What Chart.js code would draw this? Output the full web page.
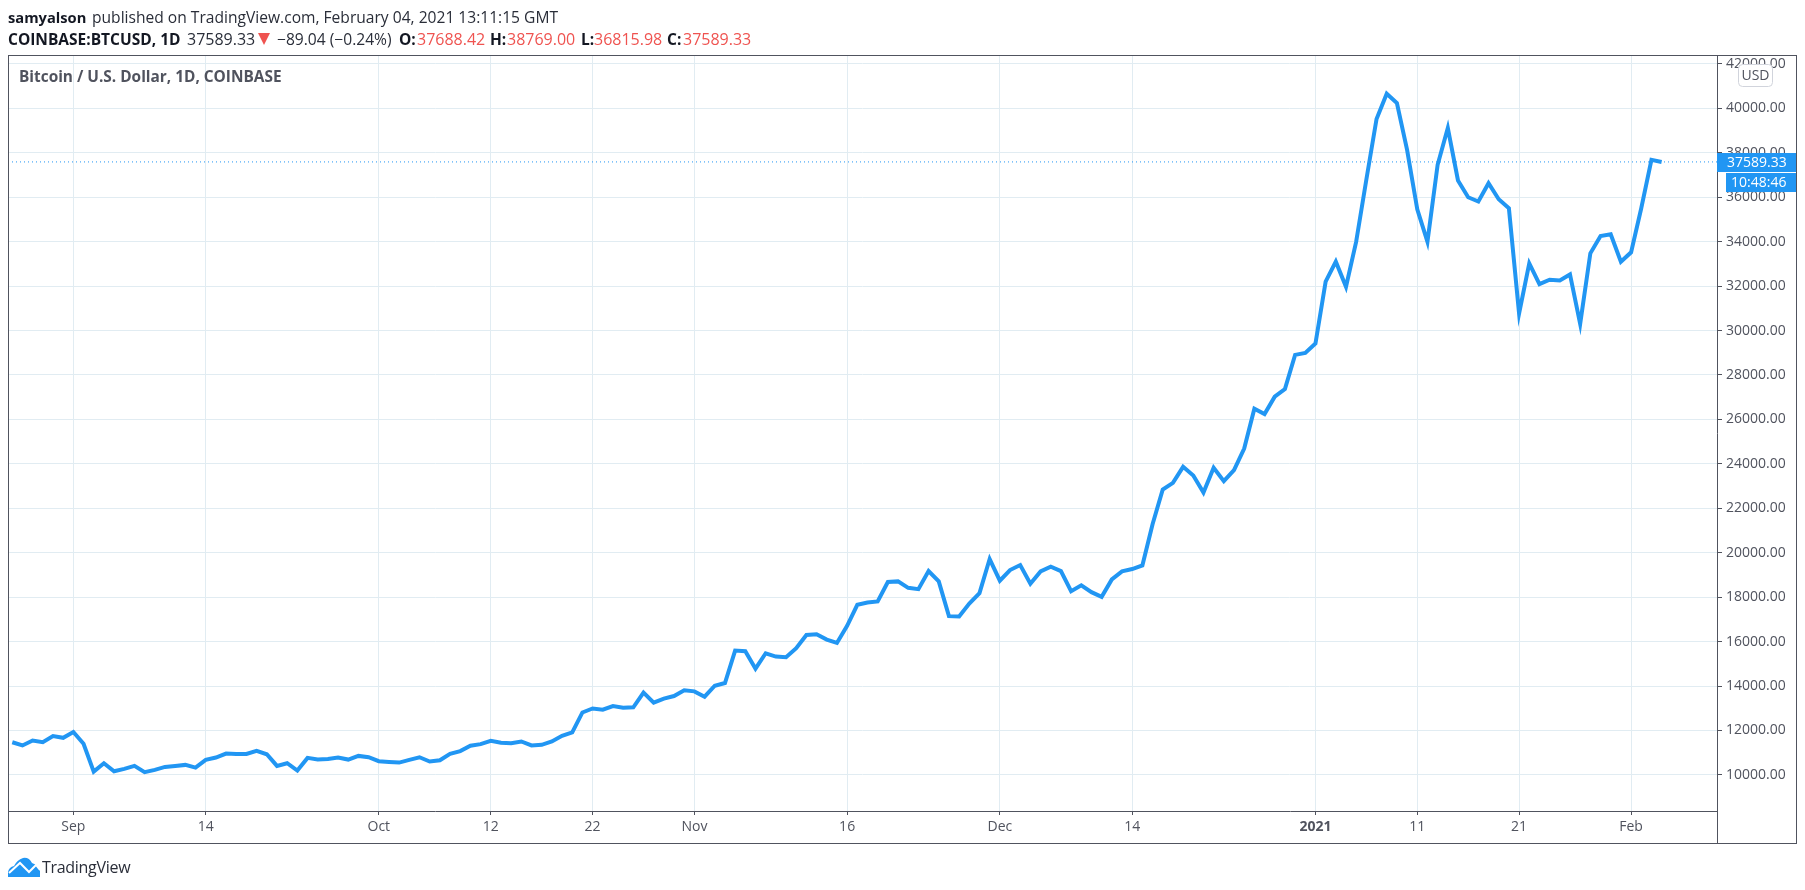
<!DOCTYPE html>
<html>
<head>
<meta charset="utf-8">
<title>BTCUSD</title>
<script src="https://cdn.jsdelivr.net/npm/chart.js@4/dist/chart.umd.min.js"></script>
<style>
    html, body { margin: 0; padding: 0; background: #fff; overflow: hidden; }
    body { width: 1805px; height: 890px; position: relative; font-family: "Open Sans", sans-serif; }
    canvas { position: absolute; left: 0; top: 0; }
    .txt { position: absolute; white-space: nowrap; line-height: 20px; color: #2a2e39; }
    .r1 { top: 7px; }
    .r2 { top: 29px; font-size: 16px; }
    b.txt { color: #131722; font-weight: 700; font-size: 15.5px; }
    .red { color: #ef5350; }
    .name { left: 19px; top: 67px; font-size: 15.4px; font-weight: 700; color: #50535e; }
    .brand { left: 42px; top: 857px; font-size: 16px; letter-spacing: -0.3px; }
    .tri { position: absolute; left: 258px; top: 33px; width: 0; height: 0;
           border-left: 6px solid transparent; border-right: 6px solid transparent; border-top: 12px solid #ef5350; }
    svg { position: absolute; left: 8px; top: 857px; }
</style>
</head>
<body>
<canvas id="chart" width="1805" height="890"></canvas>
<b class="txt r1" style="left:8px;font-size:14.7px">samyalson</b>
<span class="txt r1" style="left:92px;font-size:15.6px">published on TradingView.com, February 04, 2021 13:11:15 GMT</span>
<b class="txt r2" style="left:8px">COINBASE:BTCUSD, 1D</b>
<span class="txt r2" style="left:187px">37589.33</span>
<span class="tri"></span>
<span class="txt r2" style="left:277px;font-size:15.6px">−89.04 (−0.24%)</span>
<b class="txt r2" style="left:399px">O:</b><span class="txt r2 red" style="left:417px">37688.42</span>
<b class="txt r2" style="left:490px">H:</b><span class="txt r2 red" style="left:507px">38769.00</span>
<b class="txt r2" style="left:581px">L:</b><span class="txt r2 red" style="left:594px">36815.98</span>
<b class="txt r2" style="left:667px">C:</b><span class="txt r2 red" style="left:683px">37589.33</span>
<div class="txt name">Bitcoin / U.S. Dollar, 1D, COINBASE</div>
<svg width="32" height="20" viewBox="0 0 32 20">
    <path d="M0 20 L0 15 Q1 10 6 9 Q9 3 15 1 Q21 0 24 6 Q30 8 32 14 L32 20 Z" fill="#2196f3"/>
    <path d="M1 16 L12 6 L21 15 L28 8 L32 13" fill="none" stroke="#fff" stroke-width="2"/>
</svg>
<div class="txt brand">TradingView</div>
<script>
// daily closes from Aug 26 2020 to Feb 4 2021
const prices = [
    11470, 11325, 11550, 11475, 11745, 11670, 11930, 11400, 10150, 10525,
    10165, 10270, 10405, 10120, 10225, 10360, 10405, 10450, 10330, 10680,
    10780, 10960, 10945, 10945, 11085, 10930, 10405, 10525, 10195, 10765,
    10690, 10720, 10780, 10690, 10855, 10795, 10615, 10585, 10555, 10675,
    10795, 10600, 10660, 10945, 11070, 11310, 11385, 11535, 11445, 11430,
    11505, 11325, 11355, 11505, 11760, 11910, 12810, 12990, 12935, 13100,
    13025, 13040, 13700, 13250, 13430, 13550, 13805, 13760, 13520, 14015,
    14135, 15595, 15565, 14780, 15475, 15325, 15295, 15700, 16300, 16330,
    16090, 15940, 16710, 17655, 17760, 17805, 18680, 18710, 18420, 18360,
    19175, 18710, 17145, 17130, 17715, 18180, 19715, 18740, 19220, 19445,
    18605, 19160, 19370, 19175, 18270, 18530, 18225, 18015, 18800, 19160,
    19265, 19430, 21280, 22845, 23145, 23865, 23475, 22705, 23820, 23220,
    23715, 24690, 26480, 26240, 27025, 27370, 28905, 28995, 29415, 32200,
    33100, 31970, 34000, 36800, 39520, 40660, 40240, 38135, 35460, 34000,
    37460, 39115, 36755, 36000, 35805, 36630, 35910, 35505, 30770, 33025,
    32090, 32285, 32255, 32525, 30300, 33475, 34255, 34330, 33100, 33520,
    35505, 37685, 37589.33
];
const lastPrice = 37589.33;
const countdown = '10:48:46';
const currency = 'USD';

const xTickDays = [6, 19, 36, 47, 57, 67, 82, 97, 110, 128, 138, 148, 159];
const xTickLabels = ['Sep', '14', 'Oct', '12', '22', 'Nov', '16', 'Dec', '14', '2021', '11', '21', 'Feb'];
const yTicks = [10000, 12000, 14000, 16000, 18000, 20000, 22000, 24000, 26000, 28000, 30000, 32000, 34000, 36000, 38000, 40000, 42000];

const xMin = -0.42;
const xMax = 167.44;
const yMin = 8375;
const yMax = 42402;

const TEXT = '#50535e';
const GRID = '#e1ecf2';
const BLUE = '#2196f3';
const FONT = '"Open Sans", sans-serif';

const frameAndLabels = {
    id: 'frameAndLabels',
    afterDraw(chart) {
        const ctx = chart.ctx;
        const y = chart.scales.y;
        const area = chart.chartArea;
        const py = Math.round(y.getPixelForValue(lastPrice));

        ctx.save();
        // outer frame
        ctx.strokeStyle = TEXT;
        ctx.lineWidth = 1;
        ctx.strokeRect(8.5, area.top + 0.5, 1796 - 8, 843 - area.top);
        ctx.beginPath();
        ctx.moveTo(area.right + 0.5, area.bottom);
        ctx.lineTo(area.right + 0.5, 843);
        ctx.stroke();

        // last price and countdown labels
        ctx.fillStyle = BLUE;
        ctx.fillRect(area.right, py - 9, 79, 19);
        ctx.fillRect(area.right + 9, py + 11, 70, 19);
        ctx.fillStyle = '#fff';
        ctx.font = '14px ' + FONT;
        ctx.textAlign = 'left';
        ctx.textBaseline = 'middle';
        ctx.fillText(lastPrice.toFixed(2), area.right + 10, py + 1);
        ctx.fillText(countdown, area.right + 14, py + 21);

        // currency badge
        ctx.beginPath();
        ctx.roundRect(1738.5, 64.5, 34, 22, 4);
        ctx.fillStyle = '#fff';
        ctx.fill();
        ctx.strokeStyle = '#d1d4dc';
        ctx.stroke();
        ctx.fillStyle = TEXT;
        ctx.textAlign = 'center';
        ctx.fillText(currency, 1755.5, 76);
        ctx.restore();
    }
};

new Chart(document.getElementById('chart'), {
    type: 'line',
    data: {
        datasets: [
            {
                data: prices.map((p, i) => ({ x: i, y: p })),
                borderColor: BLUE,
                borderWidth: 4,
                borderJoinStyle: 'miter',
                tension: 0,
                pointRadius: 0,
                fill: false
            },
            {
                data: [{ x: xMin, y: lastPrice }, { x: xMax, y: lastPrice }],
                borderColor: BLUE,
                borderWidth: 1,
                borderDash: [1, 3],
                pointRadius: 0,
                fill: false
            }
        ]
    },
    plugins: [frameAndLabels],
    options: {
        responsive: false,
        animation: false,
        devicePixelRatio: 1,
        layout: { padding: { left: 8, top: 55, right: 9, bottom: 47 } },
        plugins: { legend: { display: false }, tooltip: { enabled: false } },
        scales: {
            x: {
                type: 'linear',
                min: xMin,
                max: xMax,
                afterBuildTicks(scale) {
                    scale.ticks = xTickDays.map(v => ({ value: v }));
                },
                afterFit(scale) {
                    scale.height = 32;
                },
                grid: { color: GRID, tickColor: TEXT, tickLength: 4 },
                border: { color: TEXT },
                ticks: {
                    autoSkip: false,
                    maxRotation: 0,
                    padding: 4,
                    color: TEXT,
                    font: ctx => ({
                        family: FONT,
                        size: 14,
                        weight: ctx.tick && ctx.tick.value === 128 ? 'bold' : 'normal'
                    }),
                    callback: v => xTickLabels[xTickDays.indexOf(v)]
                }
            },
            y: {
                position: 'right',
                min: yMin,
                max: yMax,
                afterBuildTicks(scale) {
                    scale.ticks = yTicks.map(v => ({ value: v }));
                },
                afterFit(scale) {
                    scale.width = 79;
                },
                grid: { color: GRID, tickColor: TEXT, tickLength: 5 },
                border: { color: TEXT },
                ticks: {
                    padding: 4,
                    color: TEXT,
                    font: { family: FONT, size: 14 },
                    callback: v => v.toFixed(2)
                }
            }
        }
    }
});
</script>
</body>
</html>
